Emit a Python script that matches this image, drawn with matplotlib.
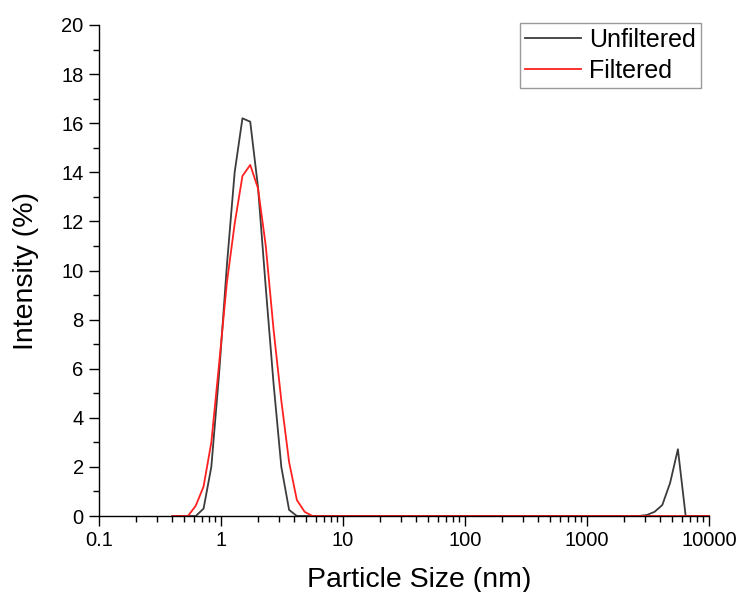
import matplotlib
matplotlib.use("Agg")
import matplotlib.pyplot as plt
from matplotlib.ticker import LogLocator, FixedLocator, NullFormatter, FixedFormatter

plt.rcParams['font.family'] = ['Liberation Sans', 'DejaVu Sans']

sizes_nm = [0.4, 0.4632, 0.5365, 0.6213, 0.7195, 0.8332, 0.9649, 1.117, 1.294, 1.499,
            1.736, 2.01, 2.328, 2.696, 3.122, 3.615, 4.187, 4.849, 5.615, 6.503,
            7.531, 8.721, 10.1, 11.7, 13.54, 15.69, 18.17, 21.04, 24.36, 28.21,
            32.67, 37.84, 43.82, 50.75, 58.77, 68.06, 78.82, 91.28, 105.7, 122.4,
            141.8, 164.2, 190.1, 220.2, 255.0, 295.3, 342.0, 396.1, 458.7, 531.2,
            615.1, 712.4, 825.0, 955.4, 1106, 1281, 1484, 1718, 1990, 2305,
            2669, 3091, 3580, 4145, 4801, 5560, 6439, 7456, 8635, 10000]

unfiltered = [0, 0, 0, 0, 0.3, 2.0, 5.8, 10.2, 14.0, 16.2,
              16.06, 13.4, 9.3, 5.4, 2.0, 0.25, 0, 0, 0, 0,
              0, 0, 0, 0, 0, 0, 0, 0, 0, 0,
              0, 0, 0, 0, 0, 0, 0, 0, 0, 0,
              0, 0, 0, 0, 0, 0, 0, 0, 0, 0,
              0, 0, 0, 0, 0, 0, 0, 0, 0, 0,
              0, 0.04, 0.17, 0.45, 1.35, 2.72, 0, 0, 0, 0]

filtered = [0, 0, 0, 0.42, 1.2, 3.0, 6.2, 9.5, 11.9, 13.85,
            14.3, 13.35, 11.0, 7.6, 4.7, 2.2, 0.65, 0.17, 0, 0,
            0, 0, 0, 0, 0, 0, 0, 0, 0, 0,
            0, 0, 0, 0, 0, 0, 0, 0, 0, 0,
            0, 0, 0, 0, 0, 0, 0, 0, 0, 0,
            0, 0, 0, 0, 0, 0, 0, 0, 0, 0,
            0, 0, 0, 0, 0, 0, 0, 0, 0, 0]

x_ticks = [0.1, 1, 10, 100, 1000, 10000]
x_tick_labels = ['0.1', '1', '10', '100', '1000', '10000']
y_ticks = [0, 2, 4, 6, 8, 10, 12, 14, 16, 18, 20]
y_minor_ticks = [1, 3, 5, 7, 9, 11, 13, 15, 17, 19]

fig = plt.figure(figsize=(7.39, 5.92), dpi=100)
ax = fig.add_axes([99/739, 1 - 516/592, 610/739, 491/592])

ax.plot(sizes_nm, unfiltered, color='#3c3c3c', lw=1.3, label='Unfiltered', clip_on=False)
ax.plot(sizes_nm, filtered, color='#ff2020', lw=1.3, label='Filtered', clip_on=False)

ax.set_xscale('log')
ax.set_xlim(0.1, 10000)
ax.set_ylim(0, 20)
ax.xaxis.set_major_locator(FixedLocator(x_ticks))
ax.xaxis.set_major_formatter(FixedFormatter(x_tick_labels))
ax.xaxis.set_minor_locator(LogLocator(base=10, subs=range(2, 10), numticks=20))
ax.xaxis.set_minor_formatter(NullFormatter())
ax.yaxis.set_major_locator(FixedLocator(y_ticks))
ax.yaxis.set_minor_locator(FixedLocator(y_minor_ticks))

for s in ['top', 'right']:
    ax.spines[s].set_visible(False)
for s in ['left', 'bottom']:
    ax.spines[s].set_linewidth(1.0)
    ax.spines[s].set_color('black')

ax.tick_params(which='major', direction='out', length=7, width=1.0, labelsize=14.5, pad=4)
ax.tick_params(which='minor', direction='out', length=4, width=1.0)

ax.set_xlabel('Particle Size (nm)', fontsize=20.5, labelpad=12)
ax.xaxis.label.set_x((419 - 99) / 610)
ax.set_ylabel('Intensity (%)', fontsize=20.5, labelpad=16)

leg = ax.legend(loc='upper right', bbox_to_anchor=(602/610, 1.0047), fontsize=18,
                frameon=True, fancybox=False, edgecolor='#808080',
                handlelength=2.25, handletextpad=0.32, borderpad=0.2, labelspacing=0.28,
                borderaxespad=0)
leg.get_frame().set_linewidth(1.0)

fig.savefig('out.png', dpi=100)
